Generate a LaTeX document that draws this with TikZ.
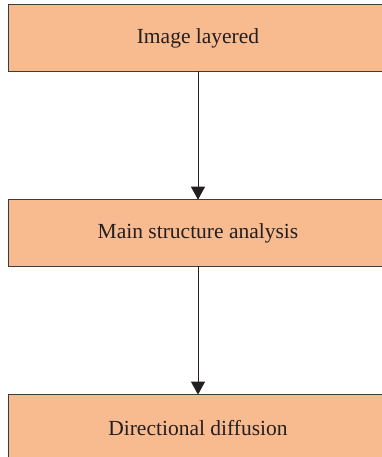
\documentclass[tikz,border=0pt]{standalone}
\usepackage{fontspec}
\setmainfont{Liberation Serif}
\usetikzlibrary{positioning,arrows.meta,backgrounds}
\definecolor{boxfill}{HTML}{F8BA8F}
\definecolor{boxline}{HTML}{3C3C3C}
\definecolor{inktext}{HTML}{231F20}
\tikzset{
  stage/.style={text=inktext,minimum width=378pt,minimum height=66pt,inner sep=0pt,
    font=\fontsize{21.5}{25}\selectfont},
  stagebox/.style={draw=boxline,line width=1pt,fill=boxfill},
  flow/.style={draw=inktext,line width=1pt,-{Triangle[length=13pt,width=14pt]}}
}
\begin{document}
\begin{tikzpicture}[x=1pt,y=1pt,node distance=128.5pt]
\useasboundingbox (0,0) rectangle (382,-457);
\node[stage] (layer) at (198,-38) {Image layered};
\node[stage,below=of layer] (struct) {Main structure analysis};
\node[stage,below=of struct] (diffuse) {Directional diffusion};
% boxes run on past the right edge of the page
\begin{scope}[on background layer]
\foreach \n in {layer,struct,diffuse}
  \draw[stagebox] (\n.south west) rectangle ([xshift=30pt]\n.north east);
\end{scope}
\draw[flow] (layer) -- (struct);
\draw[flow] (struct) -- (diffuse);
\end{tikzpicture}
\end{document}
